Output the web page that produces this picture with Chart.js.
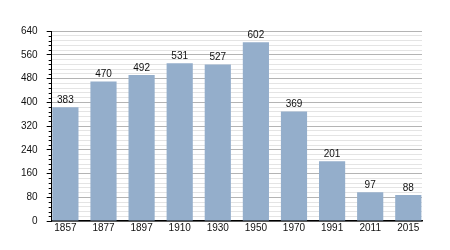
<!DOCTYPE html>
<html><head><meta charset="utf-8">
<script src="https://cdn.jsdelivr.net/npm/chart.js@4"></script>
<style>html,body{margin:0;padding:0;background:#fff}#w{width:450px;height:250px}</style>
</head><body><div id="w"><canvas id="c"></canvas></div>
<script>
const years = ["1857","1877","1897","1910","1930","1950","1970","1991","2011","2015"];
const population = [383,470,492,531,527,602,369,201,97,88];
const yMax = 640;
const yMajor = 80;
const yMinor = 16;

const points = population.map((v, i) => ({ x: i, y: v }));

const labelPlugin = {
  id: 'labels',
  afterDatasetsDraw(chart) {
    const ctx = chart.ctx;
    const meta = chart.getDatasetMeta(0);
    ctx.save();
    ctx.font = '10px "Liberation Sans", Arial, sans-serif';
    ctx.fillStyle = '#111';
    ctx.textAlign = 'center';
    ctx.textBaseline = 'bottom';
    meta.data.forEach((el, i) => {
      ctx.fillText(String(population[i]), el.x, el.y - 2);
    });
    ctx.restore();
  }
};
const minorTickPlugin = {
  id: 'minorTicks',
  afterDraw(chart) {
    const ctx = chart.ctx;
    const y = chart.scales.y;
    const x0 = chart.chartArea.left;
    ctx.save();
    ctx.strokeStyle = '#000';
    ctx.lineWidth = 1;
    for (let v = 0; v <= yMax; v += yMinor) {
      if (v % yMajor === 0) continue;
      const p = Math.round(y.getPixelForValue(v)) + 0.5;
      ctx.beginPath();
      ctx.moveTo(x0 - 3, p);
      ctx.lineTo(x0, p);
      ctx.stroke();
    }
    ctx.restore();
  }
};

new Chart(document.getElementById('c'), {
  type: 'bar',
  data: {
    datasets: [{
      data: points,
      backgroundColor: '#94aecb',
      borderWidth: 0,
      categoryPercentage: 1.0,
      barPercentage: 0.687
    }]
  },
  options: {
    responsive: true,
    maintainAspectRatio: false,
    animation: false,
    layout: { padding: { left: 12, right: 28, top: 31, bottom: 15 } },
    plugins: { legend: { display: false }, tooltip: { enabled: false } },
    scales: {
      x: {
        type: 'linear',
        min: -0.36, max: years.length - 1 + 0.36,
        offset: false,
        afterBuildTicks: s => { s.ticks = years.map((_, i) => ({ value: i })); },
        grid: { display: false, drawTicks: false },
        border: { color: '#000', width: 1.5 },
        ticks: {
          autoSkip: false,
          color: '#111',
          font: { size: 10, family: '"Liberation Sans", Arial, sans-serif' },
          padding: 1, maxRotation: 0,
          callback: v => years[v] !== undefined ? years[v] : ''
        }
      },
      y: {
        min: 0, max: yMax,
        border: { color: '#000', width: 1 },
        grid: {
          color: c => (c.tick && c.tick.value % yMajor === 0) ? '#b4b4b4' : '#e4e4e4',
          tickColor: c => (c.tick && c.tick.value % yMajor === 0) ? '#000' : 'rgba(0,0,0,0)',
          tickLength: 5,
          lineWidth: 1
        },
        ticks: {
          stepSize: yMinor,
          autoSkip: false,
          color: '#111',
          font: { size: 10, family: '"Liberation Sans", Arial, sans-serif' },
          padding: 9,
          callback: v => (v % yMajor === 0) ? String(v) : ''
        }
      }
    }
  },
  plugins: [labelPlugin, minorTickPlugin]
});
</script></body></html>
